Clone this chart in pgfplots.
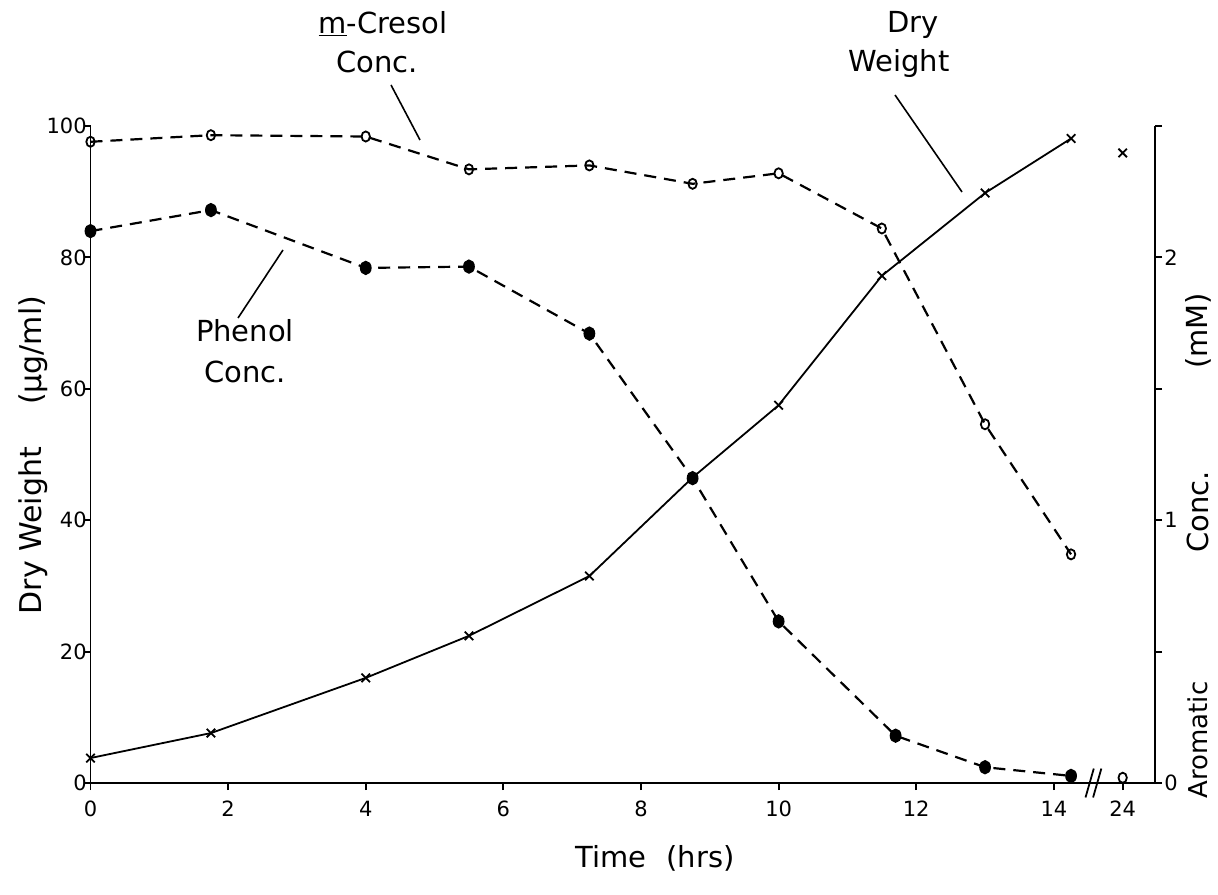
\documentclass[border=0pt]{standalone}
\usepackage{pgfplots}
\usepackage{pgfplotstable}
\pgfplotsset{compat=1.18}
\usepackage{fontspec}
\setmainfont{DejaVu Sans}

% Dry weight (ug/ml) against time; the 24 h sample sits at x = 15
\pgfplotstableread{
t     dw
0     3.8
1.75  7.6
4     16.0
5.5   22.4
7.25  31.5
8.75  46.5
10    57.5
11.5  77.2
13    89.8
14.25 98.1
}\dryweight

% m-cresol concentration (mM)
\pgfplotstableread{
t     c
0     2.44
1.75  2.465
4     2.46
5.5   2.335
7.25  2.35
8.75  2.28
10    2.32
11.5  2.11
13    1.365
14.25 0.87
}\cresol

% phenol concentration (mM)
\pgfplotstableread{
t     c
0     2.10
1.75  2.18
4     1.96
5.5   1.965
7.25  1.71
8.75  1.16
10    0.615
11.7  0.18
13    0.06
14.25 0.027
}\phenol

\pgfplotsset{
  twin/.style={
    scale only axis, width=532.25pt, height=328.5pt,
    at={(0,0)}, anchor=south west,
    xmin=0, xmax=15.47,
    axis line style={line width=0.9pt, -},
    tick style={line width=0.9pt, black},
    major tick length=3.5pt,
    tick align=outside,
    tick label style={font=\fontsize{10.5}{12}\selectfont, inner sep=1pt},
    /pgf/number format/assume math mode=true,
    clip=false,
  },
}

\begin{document}
\begin{tikzpicture}
\begin{scope}[shift={(-45.25pt,391.5pt)}, x=0.5pt, y=-0.5pt]
  \useasboundingbox (0,0) rectangle (1218,894);
\end{scope}

% left axis: dry weight
\begin{axis}[twin,
  axis x line*=bottom, axis y line*=left,
  ymin=0, ymax=100,
  xtick={0,2,4,6,8,10,12,14,15},
  xticklabels={0,2,4,6,8,10,12,14,24},
  ytick={0,20,40,60,80,100},
  xticklabel style={yshift=-4.5pt},
  yticklabel style={xshift=2.8pt},
]
\addplot[black, line width=0.9pt, mark=x, mark size=3pt,
  mark options={line width=0.9pt}] table[x=t, y=dw] {\dryweight};
\addplot[black, only marks, mark=x, mark size=3pt,
  mark options={line width=0.9pt}] coordinates {(15,95.9)};
% break in the time axis
\draw[line width=0.9pt] (axis cs:14.46,-2.2) -- (axis cs:14.58,2.2);
\draw[line width=0.9pt] (axis cs:14.57,-2.2) -- (axis cs:14.69,2.2);
\end{axis}

% right axis: aromatic concentration
\begin{axis}[twin,
  axis y line*=right, axis x line=none,
  ymin=0, ymax=2.5,
  ytick={0,0.5,1,1.5,2,2.5},
  yticklabels={0,,1,,2,},
]
\addplot[black, line width=1.1pt, dash pattern=on 6pt off 4pt,
  mark=o, mark size=2.1pt,
  mark options={solid, line width=0.9pt, yscale=1.2}] table[x=t, y=c] {\cresol};
\addplot[black, only marks, mark=o, mark size=2.1pt,
  mark options={solid, line width=0.9pt, yscale=1.2}] coordinates {(15,0.02)};
\addplot[black, line width=1.1pt, dash pattern=on 6pt off 4pt,
  mark=*, mark size=2.4pt,
  mark options={solid, yscale=1.25}] table[x=t, y=c] {\phenol};
\end{axis}

% labels and annotations
\begin{scope}[shift={(-45.25pt,391.5pt)}, x=0.5pt, y=-0.5pt,
  every node/.style={font=\fontsize{14.5}{16}\selectfont, inner sep=0pt}]
  \node at (655,858) {Time\hspace{0.7em}(hrs)};
  \node[rotate=90, font=\fontsize{15}{16}\selectfont] at (33,455)
    {Dry Weight\hspace{1.4em}(µg/ml)};
  \node[rotate=90, font=\fontsize{13}{15}\selectfont] at (1198,740) {Aromatic};
  \node[rotate=90] at (1198,512) {Conc.};
  \node[rotate=90] at (1198,331) {(mM)};

  \node at (383,24) {\underline{m}-Cresol};
  \node at (377,62) {Conc.};
  \draw[line width=0.8pt] (391,85) -- (420,140);

  \node at (913,25) {Dry};
  \node at (899,64) {Weight};
  \draw[line width=0.8pt] (895,95) -- (962,192);

  \node at (245,331) {Phenol};
  \node at (245,372) {Conc.};
  \draw[line width=0.8pt] (283,250) -- (238,318);
\end{scope}
\end{tikzpicture}
\end{document}
